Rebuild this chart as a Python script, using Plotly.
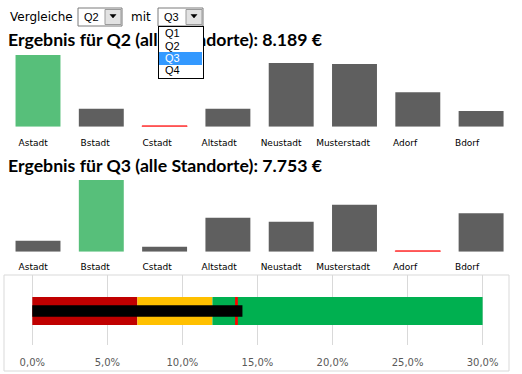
import plotly.graph_objects as go

# ---------------- data ----------------
categories = ["Astadt", "Bstadt", "Cstadt", "Altstadt", "Neustadt", "Musterstadt", "Adorf", "Bdorf"]
quarters = ["Q1", "Q2", "Q3", "Q4"]
q_left = "Q2"
q_right = "Q3"
values_q2 = [2060, 515, 25, 515, 1830, 1800, 990, 454]
values_q3 = [355, 2340, 160, 1105, 975, 1530, 30, 1258]
bullet_bands = [0.07, 0.12, 0.30]          # red / yellow / green upper limits
bullet_actual = [0.14]
bullet_target = [0.136]
bullet_ticks = [0.0, 0.05, 0.10, 0.15, 0.20, 0.25, 0.30]

W, H = 522, 374
def X(p): return p / W
def Y(p): return 1 - p / H

GRAY = "#5f5f5f"
GREEN = "#57bf7a"
RED = "#ff3b3b"

def bar_colors(vals):
    mx, mn = max(vals), min(vals)
    return [GREEN if v == mx else (RED if v == mn else GRAY) for v in vals]

def bar_lines(vals):
    mn = min(vals)
    return [1 if v == mn else 0 for v in vals]

def fmt_eur(v):
    return f"{v:,}".replace(",", ".") + " €"

fig = go.Figure()

# chart 1
c1 = bar_colors(values_q2)
fig.add_trace(go.Bar(x=categories, y=values_q2,
                     marker=dict(color=c1, line=dict(color=c1, width=bar_lines(values_q2))),
                     width=0.71, xaxis="x", yaxis="y", showlegend=False, hoverinfo="skip"))
# chart 2
c2 = bar_colors(values_q3)
fig.add_trace(go.Bar(x=categories, y=values_q3,
                     marker=dict(color=c2, line=dict(color=c2, width=bar_lines(values_q3))),
                     width=0.71, xaxis="x2", yaxis="y2", showlegend=False, hoverinfo="skip"))
# label rows (cell text under the charts)
fig.add_trace(go.Scatter(x=categories, y=[0] * len(categories), mode="markers",
                         marker=dict(opacity=0), xaxis="x4", yaxis="y", showlegend=False, hoverinfo="skip"))
fig.add_trace(go.Scatter(x=categories, y=[0] * len(categories), mode="markers",
                         marker=dict(opacity=0), xaxis="x5", yaxis="y2", showlegend=False, hoverinfo="skip"))

# bullet bands
band_colors = ["#c00000", "#ffc000", "#00b050"]
prev = 0.0
for up, col in zip(bullet_bands, band_colors):
    fig.add_trace(go.Bar(y=[0], x=[up - prev], base=[prev], orientation="h", width=0.8,
                         marker=dict(color=col, line=dict(width=0)), xaxis="x3", yaxis="y3",
                         showlegend=False, hoverinfo="skip"))
    prev = up
# target marker
fig.add_trace(go.Bar(y=[0], x=[0.0018], base=[bullet_target[0] - 0.0009], orientation="h", width=0.8,
                     marker=dict(color="#ff0000", line=dict(width=0)), xaxis="x3", yaxis="y3",
                     showlegend=False, hoverinfo="skip"))
# actual
fig.add_trace(go.Bar(y=[0], x=bullet_actual, base=[0], orientation="h", width=0.334,
                     marker=dict(color="#000000", line=dict(width=0)), xaxis="x3", yaxis="y3",
                     showlegend=False, hoverinfo="skip"))

ratio = 76.7 / 71.7
hidden = dict(showgrid=False, zeroline=False, showline=False, showticklabels=False, ticks="")
label_font = dict(family="DejaVu Sans", size=9, color="#000000")

fig.update_layout(
    width=W, height=H, autosize=False,
    margin=dict(l=0, r=0, t=0, b=0),
    paper_bgcolor="white", plot_bgcolor="rgba(0,0,0,0)",
    barmode="overlay",
    separators=",.",
    xaxis=dict(domain=[X(6.35), X(512.75)], range=[-0.5, 7.5], type="category", anchor="y", **hidden),
    yaxis=dict(domain=[Y(126.7), Y(50)], range=[0, max(values_q2) * ratio], anchor="x", **hidden),
    xaxis2=dict(domain=[X(6.35), X(512.75)], range=[-0.5, 7.5], type="category", anchor="y2", **hidden),
    yaxis2=dict(domain=[Y(251.7), Y(175)], range=[0, max(values_q3) * ratio], anchor="x2", **hidden),
    xaxis4=dict(domain=[X(2.1), X(498.1)], range=[-0.5, 7.5], type="category", anchor="y",
                showgrid=False, zeroline=False, showline=False, ticks="outside", ticklen=7,
                tickcolor="rgba(0,0,0,0)", tickfont=label_font),
    xaxis5=dict(domain=[X(2.1), X(498.1)], range=[-0.5, 7.5], type="category", anchor="y2",
                showgrid=False, zeroline=False, showline=False, ticks="outside", ticklen=6,
                tickcolor="rgba(0,0,0,0)", tickfont=label_font),
    xaxis3=dict(domain=[X(8), X(505)], range=[(8 - 32.3) / 1501.0, (505 - 32.3) / 1501.0],
                anchor="y3", showgrid=True, gridcolor="#d9d9d9", gridwidth=1, zeroline=False,
                showline=False, tickvals=bullet_ticks, tickformat=".1%", ticks="outside", ticklen=8,
                tickcolor="rgba(0,0,0,0)", tickfont=dict(family="DejaVu Sans", size=10, color="#595959")),
    yaxis3=dict(domain=[Y(345), Y(275)], range=[-0.971, 1.029], anchor="x3", **hidden),
)

shapes = []
# bullet frame
shapes.append(dict(type="rect", xref="paper", yref="paper", x0=X(4), x1=X(509), y0=Y(371), y1=Y(275),
                   line=dict(color="#d9d9d9", width=1), fillcolor="rgba(0,0,0,0)", layer="below"))
# combo boxes
for (bx0, bx1, btn0, btn1) in [(78, 122, 105, 121), (158, 203, 186, 202)]:
    shapes.append(dict(type="rect", xref="paper", yref="paper", x0=X(bx0), x1=X(bx1), y0=Y(26), y1=Y(8),
                       line=dict(color="#7a7a7a", width=1), fillcolor="white", layer="above"))
    shapes.append(dict(type="rect", xref="paper", yref="paper", x0=X(btn0), x1=X(btn1), y0=Y(24.5), y1=Y(9.5),
                       line=dict(color="#9a9a9a", width=1), fillcolor="#e2e2e2", layer="above"))
    cx = (btn0 + btn1) / 2
    path = (f"M {X(cx - 3)},{Y(14.5)} L {X(cx + 3)},{Y(14.5)} L {X(cx)},{Y(18)} Z")
    shapes.append(dict(type="path", xref="paper", yref="paper", path=path,
                       line=dict(color="black", width=0.5), fillcolor="black", layer="above"))
fig.update_layout(shapes=shapes)

ann = []
ui_font = dict(family="DejaVu Sans", size=12, color="#000000")
small = dict(family="Liberation Sans", size=11, color="#000000")
title_font = dict(family="Lato", size=17.7, color="#000000")
ann.append(dict(text="Vergleiche", x=X(8), y=Y(17), xref="paper", yref="paper", xanchor="left",
                yanchor="middle", showarrow=False, font=ui_font))
ann.append(dict(text="mit", x=X(129), y=Y(17), xref="paper", yref="paper", xanchor="left",
                yanchor="middle", showarrow=False, font=ui_font))
ann.append(dict(text=q_left, x=X(82), y=Y(17), xref="paper", yref="paper", xanchor="left",
                yanchor="middle", showarrow=False, font=small))
ann.append(dict(text=q_right, x=X(162), y=Y(17), xref="paper", yref="paper", xanchor="left",
                yanchor="middle", showarrow=False, font=small))
ann.append(dict(text=f"<b>Ergebnis für {q_left} (alle Standorte): {fmt_eur(sum(values_q2))}</b>",
                x=X(6), y=Y(40), xref="paper", yref="paper", xanchor="left", yanchor="middle",
                showarrow=False, font=title_font))
ann.append(dict(text=f"<b>Ergebnis für {q_right} (alle Standorte): {fmt_eur(sum(values_q3))}</b>",
                x=X(6), y=Y(165.5), xref="paper", yref="paper", xanchor="left", yanchor="middle",
                showarrow=False, font=title_font))
# open dropdown list
ann.append(dict(text=" ", x=X(158), y=Y(26), xref="paper", yref="paper", xanchor="left", yanchor="top",
                width=44, height=51, bgcolor="white", bordercolor="black", borderwidth=1, borderpad=0,
                showarrow=False, font=small))
item_y = [33, 45.5, 58, 70.5]
sel = quarters.index(q_right)
ann.append(dict(text=" ", x=X(159), y=Y(item_y[sel] - 6.5), xref="paper", yref="paper", xanchor="left",
                yanchor="top", width=43, height=13, bgcolor="#3399ff", borderpad=0, borderwidth=0,
                showarrow=False, font=small))
for q, yy in zip(quarters, item_y):
    ann.append(dict(text=q, x=X(163), y=Y(yy), xref="paper", yref="paper", xanchor="left", yanchor="middle",
                    showarrow=False, font=dict(family="Liberation Sans", size=11,
                                               color="white" if q == q_right else "black")))
fig.update_layout(annotations=ann)

fig.write_html("out.html", config={"displayModeBar": False},
               post_script="document.body.style.margin='0';document.body.style.padding='0';")
